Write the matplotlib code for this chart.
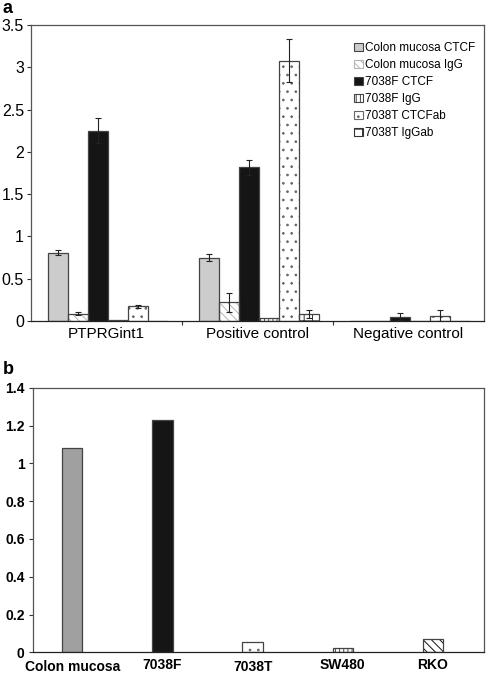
import matplotlib
matplotlib.use("Agg")
import matplotlib.pyplot as plt
from matplotlib.patches import Patch
import numpy as np

plt.rcParams['font.family'] = ['Liberation Sans', 'DejaVu Sans']
plt.rcParams['hatch.linewidth'] = 0.7

# Panel a data
groups_a = ["PTPRGint1", "Positive control", "Negative control"]
series_a = ["Colon mucosa CTCF", "Colon mucosa IgG", "7038F CTCF", "7038F IgG", "7038T CTCFab", "7038T IgGab"]
values_a = [
    [0.81, 0.75, 0.0],
    [0.086, 0.22, 0.0],
    [2.25, 1.82, 0.05],
    [0.01, 0.04, 0.005],
    [0.174, 3.08, 0.065],
    [0.005, 0.08, 0.0],
]
errors_a = [
    [0.03, 0.04, 0.0],
    [0.02, 0.11, 0.0],
    [0.15, 0.09, 0.04],
    [0.0, 0.0, 0.0],
    [0.02, 0.25, 0.06],
    [0.0, 0.045, 0.0],
]
yticks_a = [0, 0.5, 1, 1.5, 2, 2.5, 3, 3.5]
yticklabels_a = ["0", "0.5", "1", "1.5", "2", "2.5", "3", "3.5"]

# Panel b data
cats_b = ["Colon mucosa", "7038F", "7038T", "SW480", "RKO"]
values_b = [1.08, 1.23, 0.054, 0.025, 0.072]
yticks_b = [0, 0.2, 0.4, 0.6, 0.8, 1.0, 1.2, 1.4]
yticklabels_b = ["0", "0.2", "0.4", "0.6", "0.8", "1", "1.2", "1.4"]

# Styles
styles_a = [
    dict(fc="#cccccc", hatch=None, hc=None),
    dict(fc="white", hatch="\\\\\\\\", hc="#b5b5b5"),
    dict(fc="#151515", hatch=None, hc=None),
    dict(fc="white", hatch="||||", hc="#444444"),
    dict(fc="white", hatch="..", hc="#666666"),
    dict(fc="white", hatch="++", hc="#333333"),
]
styles_b = [
    dict(fc="#a0a0a0", hatch=None, hc=None),
    dict(fc="#151515", hatch=None, hc=None),
    dict(fc="white", hatch="..", hc="#666666"),
    dict(fc="white", hatch="||||", hc="#444444"),
    dict(fc="white", hatch="\\\\\\\\", hc="#111111"),
]
edge = "#444444"
spine_col = "#555555"

fig = plt.figure(figsize=(4.88, 6.75), dpi=100)

# ---------- Panel a ----------
ax = fig.add_axes([0.0635, 0.5244, 0.928, 0.4385])
x = np.arange(len(groups_a))
w = 0.132
handles = []
for i, (name, vals, errs, st) in enumerate(zip(series_a, values_a, errors_a, styles_a)):
    pos = x + (i - 2.5) * w + 0.01
    if st["hatch"]:
        ax.bar(pos, vals, w, color=st["fc"], hatch=st["hatch"], edgecolor=st["hc"], linewidth=0, zorder=2)
    else:
        ax.bar(pos, vals, w, color=st["fc"], linewidth=0, zorder=2)
    ax.bar(pos, vals, w, fill=False, edgecolor=edge, linewidth=0.9, zorder=3)
    e = np.array(errs)
    mask = e > 0
    if mask.any():
        ax.errorbar(pos[mask], np.array(vals)[mask], yerr=e[mask], fmt="none", ecolor="#222222",
                    elinewidth=0.8, capsize=2.2, capthick=0.8, zorder=4)
    handles.append(Patch(facecolor=st["fc"], edgecolor=st["hc"] if st["hatch"] else edge,
                         hatch=st["hatch"], linewidth=0.8, label=name))

ax.set_xlim(-0.5, 2.5)
ax.set_ylim(0, 3.5)
ax.set_yticks(yticks_a)
ax.set_yticklabels(yticklabels_a, fontsize=11.5)
ax.set_xticks(x)
ax.set_xticklabels(groups_a, fontsize=11)
ax.set_xticks([0.5, 1.5], minor=True)
ax.tick_params(axis="x", which="major", length=0, pad=4)
ax.tick_params(axis="x", which="minor", length=3, width=0.8, color="#333333")
ax.tick_params(axis="y", length=3, width=0.8, pad=2, color="#333333")
for s in ax.spines.values():
    s.set_color(spine_col)
    s.set_linewidth(0.9)
ax.spines["bottom"].set_color("#222222")
leg = ax.legend(handles=handles, loc="upper right", bbox_to_anchor=(1.0, 0.97), frameon=False,
                fontsize=8.5, handlelength=0.75, handleheight=0.75, handletextpad=0.2,
                labelspacing=0.42, borderaxespad=0.3)
fig.text(0.006, 0.988, "a", fontsize=13, fontweight="bold", va="center", ha="left")

# ---------- Panel b ----------
bx = fig.add_axes([0.0676, 0.0336, 0.924, 0.392])
xb = np.arange(len(cats_b))
wb = 0.225
posb = xb - 0.065
for p, v, st in zip(posb, values_b, styles_b):
    if st["hatch"]:
        bx.bar(p, v, wb, color=st["fc"], hatch=st["hatch"], edgecolor=st["hc"], linewidth=0, zorder=2)
    else:
        bx.bar(p, v, wb, color=st["fc"], linewidth=0, zorder=2)
    bx.bar(p, v, wb, fill=False, edgecolor=edge, linewidth=0.9, zorder=3)
bx.set_xlim(-0.5, 4.5)
bx.set_ylim(0, 1.4)
bx.set_yticks(yticks_b)
bx.set_yticklabels(yticklabels_b, fontsize=10, fontweight="bold")
bx.set_xticks(posb)
bx.set_xticklabels(cats_b, fontsize=10, fontweight="bold")
for i, lbl in enumerate(bx.get_xticklabels()):
    if i in (0, 2):
        lbl.set_y(-0.008)
bx.tick_params(axis="x", length=0, pad=4)
bx.tick_params(axis="y", length=3, width=0.8, pad=3, color="#333333")
for s in bx.spines.values():
    s.set_color(spine_col)
    s.set_linewidth(0.9)
bx.spines["bottom"].set_color("#222222")
fig.text(0.006, 0.452, "b", fontsize=13, fontweight="bold", va="center", ha="left")

fig.savefig("out.png", dpi=100)
